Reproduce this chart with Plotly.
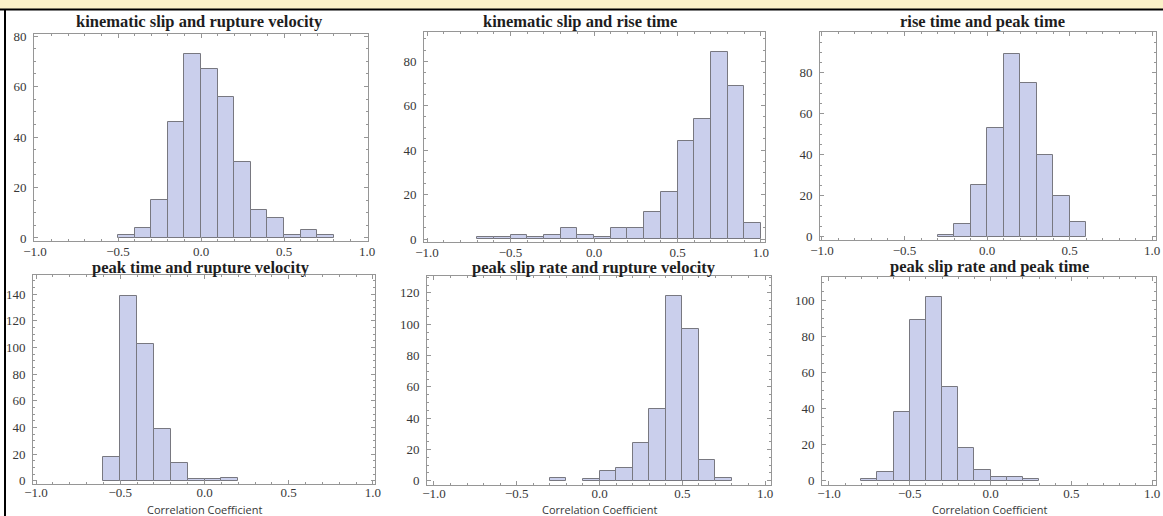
import plotly.graph_objects as go

W, H = 1163, 516

# ---- data (bin start, counts), bin width 0.1 ----
titles = [
    "kinematic slip and rupture velocity",
    "kinematic slip and rise time",
    "rise time and peak time",
    "peak time and rupture velocity",
    "peak slip rate and rupture velocity",
    "peak slip rate and peak time",
]
bin_width = 0.1

starts_1 = [-0.5, -0.4, -0.3, -0.2, -0.1, 0.0, 0.1, 0.2, 0.3, 0.4, 0.5, 0.6, 0.7]
counts_1 = [1, 4, 15, 46, 73, 67, 56, 30, 11, 8, 1, 3, 1]

starts_2 = [-0.7, -0.6, -0.5, -0.4, -0.3, -0.2, -0.1, 0.0, 0.1, 0.2, 0.3, 0.4, 0.5, 0.6, 0.7, 0.8, 0.9]
counts_2 = [1, 1, 2, 1, 2, 5, 2, 1, 5, 5, 12, 21, 44, 54, 84, 69, 7]

starts_3 = [-0.3, -0.2, -0.1, 0.0, 0.1, 0.2, 0.3, 0.4, 0.5]
counts_3 = [1, 6, 25, 53, 89, 75, 40, 20, 7]

starts_4 = [-0.6, -0.5, -0.4, -0.3, -0.2, -0.1, 0.0, 0.1]
counts_4 = [18, 139, 103, 39, 13, 1, 1, 2]

starts_5 = [-0.3, -0.1, 0.0, 0.1, 0.2, 0.3, 0.4, 0.5, 0.6, 0.7]
counts_5 = [2, 1, 6, 8, 24, 46, 118, 97, 13, 2]

starts_6 = [-0.8, -0.7, -0.6, -0.5, -0.4, -0.3, -0.2, -0.1, 0.0, 0.1, 0.2]
counts_6 = [1, 5, 38, 89, 102, 52, 18, 6, 2, 2, 1]

x_ticks = [-1.0, -0.5, 0.0, 0.5, 1.0]
x_label = "Correlation Coefficient"

series = [(starts_1, counts_1), (starts_2, counts_2), (starts_3, counts_3),
          (starts_4, counts_4), (starts_5, counts_5), (starts_6, counts_6)]

# ---- layout geometry (pixels) ----
frames = [
    (34, 368, 34, 241, [-1.006, 1.006], [-1.2, 80.8]),
    (424, 765, 32, 242, [-1.018, 1.024], [-1.35, 93.1]),
    (820, 1156, 32, 240, [-1.012, 1.024], [-1.6, 99.9]),
    (33, 375, 275, 484, [-1.018, 1.012], [-2.5, 154.5]),
    (427, 771, 276, 485, [-1.042, 1.036], [-2.7, 130.8]),
    (822, 1156, 277, 485, [-1.043, 1.024], [-2.4, 112.9]),
]
title_pos = [(199, 22), (580, 22), (982, 22), (201, 267), (594, 267), (989, 266)]
xlabel_y = [509, 509, 509]

FILL = "rgb(202,207,236)"
EDGE = "rgb(120,120,128)"
FRAME = "rgb(150,150,150)"
TICKC = "rgb(150,150,150)"
LABC = "rgb(55,55,55)"
SERIF = "Liberation Serif, DejaVu Serif, serif"

fig = go.Figure()
layout = dict(
    width=W, height=H,
    margin=dict(l=0, r=0, t=0, b=0, autoexpand=False),
    paper_bgcolor="white", plot_bgcolor="white",
    showlegend=False,
    bargap=0,
)

annotations = []
for i, ((starts, counts), (xl, xr, yt, yb, xr_, yr_)) in enumerate(zip(series, frames)):
    n = i + 1
    xa = "x" if n == 1 else f"x{n}"
    ya = "y" if n == 1 else f"y{n}"
    centers = [s + bin_width / 2 for s in starts]
    fig.add_trace(go.Bar(
        x=centers, y=counts, width=[bin_width] * len(counts),
        marker=dict(color=FILL, line=dict(color=EDGE, width=1)),
        xaxis=xa, yaxis=ya, hoverinfo="skip",
    ))
    layout[f"xaxis{n if n > 1 else ''}"] = dict(
        domain=[xl / W, xr / W], anchor=ya, range=xr_, automargin=False,
        tickvals=x_ticks, ticktext=[("\u2212" if v < 0 else "") + f"{abs(v):.1f}" for v in x_ticks],
        ticks="inside", ticklen=4, tickcolor=TICKC, tickwidth=1,
        minor=dict(tickvals=[round(-1 + 0.1 * k, 1) for k in range(21)], ticks="inside",
                   ticklen=2, tickcolor=TICKC, tickwidth=1),
        showline=True, linecolor=FRAME, linewidth=1, mirror="ticks",
        showgrid=False, zeroline=False,
        ticklabelstandoff=(-2 if i < 3 else -4), ticklabeloverflow="allow",
        tickfont=dict(family=SERIF, size=13, color=LABC),
        fixedrange=True,
    )
    layout[f"yaxis{n if n > 1 else ''}"] = dict(
        domain=[1 - yb / H, 1 - yt / H], anchor=xa, range=yr_, automargin=False,
        tickmode="linear", tick0=0, dtick=20,
        ticks="inside", ticklen=4, tickcolor=TICKC, tickwidth=1,
        minor=dict(tick0=0, dtick=5, ticks="inside", ticklen=2, tickcolor=TICKC, tickwidth=1),
        showline=True, linecolor=FRAME, linewidth=1, mirror="ticks",
        showgrid=False, zeroline=False, ticklabelstandoff=4, ticklabeloverflow="allow",
        tickfont=dict(family=SERIF, size=13, color=LABC),
        fixedrange=True,
    )
    tx, ty = title_pos[i]
    annotations.append(dict(
        text=f"<b>{titles[i]}</b>", x=tx / W, y=1 - ty / H, xref="paper", yref="paper",
        xanchor="center", yanchor="middle", showarrow=False,
        font=dict(family=SERIF, size=16.5, color="rgb(30,30,30)"),
    ))
    if i >= 3:
        annotations.append(dict(
            text=x_label, x=((xl + xr) / 2) / W, y=1 - xlabel_y[i - 3] / H,
            xref="paper", yref="paper", xanchor="center", yanchor="middle", showarrow=False,
            font=dict(family="Open Sans, sans-serif", size=11, color=LABC),
        ))

layout["annotations"] = annotations
layout["shapes"] = [
    dict(type="rect", xref="paper", yref="paper", x0=0, x1=1, y0=1 - 9 / H, y1=1,
         fillcolor="rgb(251,242,200)", line=dict(width=0), layer="above"),
    dict(type="line", xref="paper", yref="paper", x0=0, x1=1, y0=1 - 9.5 / H, y1=1 - 9.5 / H,
         line=dict(color="black", width=2), layer="above"),
    dict(type="line", xref="paper", yref="paper", x0=5 / W, x1=5 / W, y0=0, y1=1 - 9.5 / H,
         line=dict(color="black", width=2), layer="above"),
]

fig.update_layout(**layout)
fig.write_html("out.html",
               post_script="document.body.style.margin='0';document.body.style.overflow='hidden';")
